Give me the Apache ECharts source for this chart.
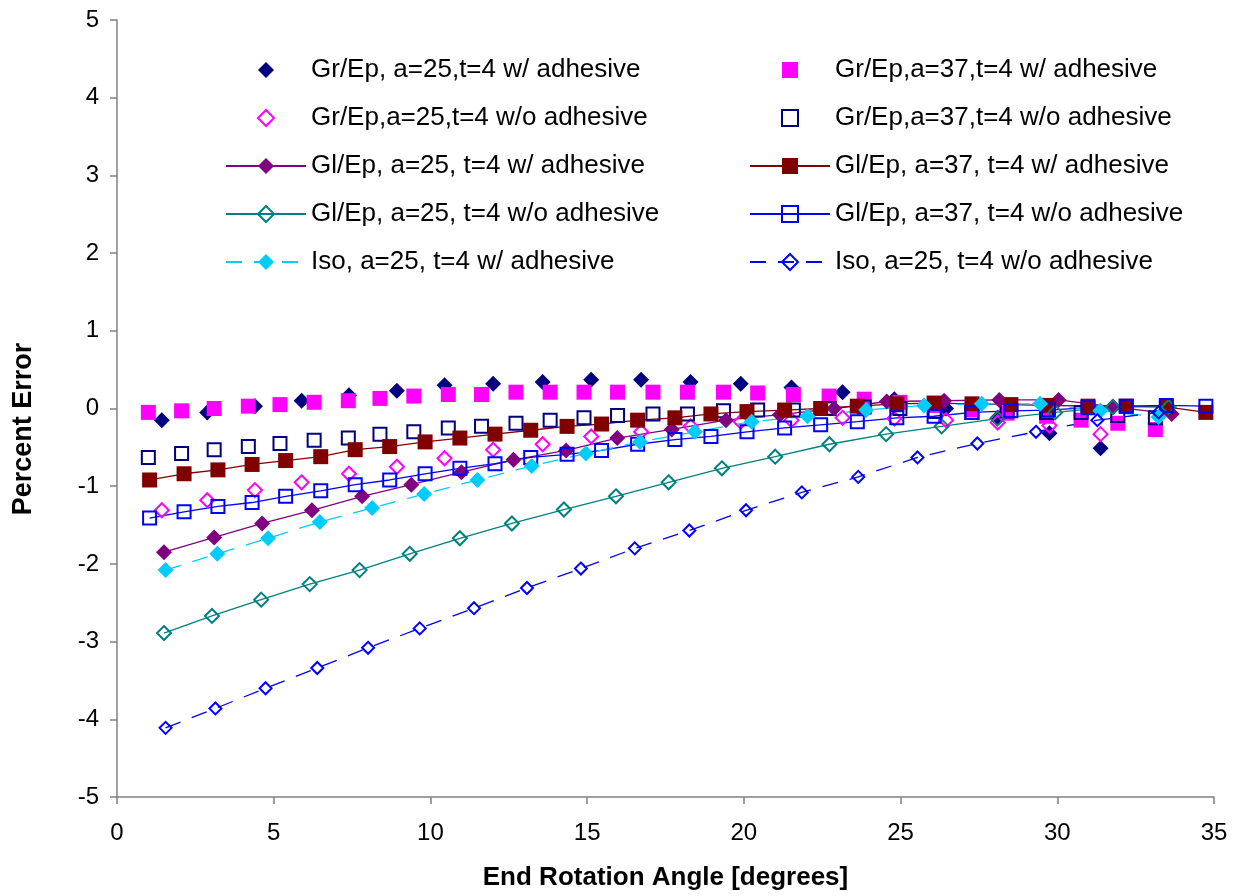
<!DOCTYPE html>
<html><head><meta charset="utf-8">
<script src="https://cdn.jsdelivr.net/npm/echarts@6/dist/echarts.min.js"></script>
<style>html,body{margin:0;padding:0;background:#fff}#c{width:1245px;height:896px}</style>
</head><body><div id="c"></div><script>
// ---- data ----
const grEp25X   = [1.43, 2.88, 4.4, 5.89, 7.4, 8.93, 10.45, 12.0, 13.58, 15.13, 16.72, 18.3, 19.9, 21.52, 23.15, 24.8, 26.45, 28.1, 29.75, 31.38];
const grEp25wY  = [-0.15, -0.05, 0.03, 0.10, 0.17, 0.23, 0.30, 0.32, 0.34, 0.37, 0.37, 0.34, 0.32, 0.27, 0.21, 0.12, 0.0, -0.12, -0.32, -0.51];
const grEp25woY = [-1.31, -1.18, -1.05, -0.95, -0.84, -0.75, -0.64, -0.53, -0.46, -0.36, -0.3, -0.23, -0.17, -0.15, -0.12, -0.13, -0.15, -0.18, -0.22, -0.33];

const glEp25wX  = [1.5, 3.1, 4.63, 6.22, 7.82, 9.39, 10.99, 12.65, 14.33, 15.96, 17.7, 19.43, 21.15, 22.88, 24.56, 26.39, 28.15, 30.04, 31.79, 33.65];
const glEp25wY  = [-1.85, -1.66, -1.48, -1.31, -1.13, -0.98, -0.82, -0.66, -0.54, -0.38, -0.27, -0.15, -0.08, 0.0, 0.09, 0.1, 0.11, 0.11, 0.02, -0.07];
const glEp25woX = [1.5, 3.03, 4.6, 6.15, 7.74, 9.34, 10.94, 12.6, 14.26, 15.92, 17.6, 19.3, 21.0, 22.73, 24.54, 26.31, 28.09, 29.93, 31.77, 33.55];
const glEp25woY = [-2.89, -2.67, -2.46, -2.26, -2.08, -1.87, -1.67, -1.48, -1.3, -1.13, -0.95, -0.77, -0.62, -0.46, -0.33, -0.23, -0.13, -0.05, 0.02, 0.02];

const iso25wX   = [1.55, 3.2, 4.82, 6.47, 8.14, 9.8, 11.5, 13.23, 14.96, 16.69, 18.44, 20.25, 22.03, 23.9, 25.75, 27.59, 29.45, 31.37, 33.23];
const iso25wY   = [-2.08, -1.87, -1.67, -1.46, -1.28, -1.1, -0.92, -0.74, -0.58, -0.43, -0.3, -0.17, -0.1, -0.02, 0.04, 0.06, 0.06, -0.03, -0.11];
const iso25woX  = [1.55, 3.14, 4.74, 6.39, 8.01, 9.66, 11.39, 13.08, 14.8, 16.52, 18.26, 20.07, 21.85, 23.65, 25.54, 27.45, 29.32, 31.28, 33.23];
const iso25woY  = [-4.11, -3.86, -3.6, -3.34, -3.08, -2.83, -2.57, -2.31, -2.06, -1.8, -1.57, -1.31, -1.08, -0.88, -0.63, -0.45, -0.3, -0.15, -0.05];

const grEp37X   = [1.0, 2.06, 3.1, 4.19, 5.2, 6.29, 7.38, 8.39, 9.47, 10.57, 11.63, 12.73, 13.82, 14.9, 15.97, 17.1, 18.2, 19.35, 20.44, 21.58, 22.72, 23.84, 24.98, 26.1, 27.27, 28.4, 29.66, 30.76, 31.93, 33.13];
const grEp37wY  = [-0.05, -0.03, 0.0, 0.03, 0.05, 0.08, 0.10, 0.13, 0.16, 0.18, 0.18, 0.21, 0.21, 0.21, 0.21, 0.21, 0.21, 0.21, 0.20, 0.18, 0.16, 0.12, 0.08, 0.04, -0.02, -0.06, -0.10, -0.15, -0.19, -0.27];
const grEp37woY = [-0.63, -0.58, -0.53, -0.49, -0.45, -0.41, -0.38, -0.33, -0.3, -0.25, -0.23, -0.19, -0.15, -0.12, -0.09, -0.07, -0.07, -0.03, -0.02, -0.02, 0.0, 0.02, 0.0, -0.04, -0.05, -0.03, -0.05, -0.05, -0.09, -0.12];

const glEp37X   = [1.04, 2.14, 3.22, 4.31, 5.38, 6.5, 7.6, 8.7, 9.83, 10.94, 12.06, 13.2, 14.36, 15.46, 16.61, 17.8, 18.95, 20.1, 21.3, 22.45, 23.62, 24.88, 26.07, 27.28, 28.52, 29.72, 30.98, 32.2, 33.48, 34.74];
const glEp37wY  = [-0.92, -0.84, -0.79, -0.72, -0.67, -0.62, -0.53, -0.49, -0.43, -0.38, -0.33, -0.28, -0.23, -0.2, -0.15, -0.12, -0.07, -0.04, -0.02, 0.0, 0.03, 0.06, 0.07, 0.06, 0.05, 0.04, 0.03, 0.03, 0.02, -0.05];
const glEp37woY = [-1.41, -1.33, -1.26, -1.21, -1.13, -1.06, -0.98, -0.92, -0.84, -0.77, -0.71, -0.63, -0.59, -0.54, -0.46, -0.4, -0.36, -0.3, -0.25, -0.21, -0.17, -0.12, -0.1, -0.05, -0.03, -0.02, 0.01, 0.03, 0.04, 0.03];

const names = [
  'Gr/Ep, a=25,t=4 w/ adhesive', 'Gr/Ep,a=37,t=4 w/ adhesive',
  'Gr/Ep,a=25,t=4 w/o adhesive', 'Gr/Ep,a=37,t=4 w/o adhesive',
  'Gl/Ep, a=25, t=4 w/ adhesive', 'Gl/Ep, a=37, t=4 w/ adhesive',
  'Gl/Ep, a=25, t=4 w/o adhesive', 'Gl/Ep, a=37, t=4 w/o adhesive',
  'Iso, a=25, t=4 w/ adhesive', 'Iso, a=25, t=4 w/o adhesive'
];

// ---- build ----
function mk(name, xs, ys, o) {
  const hollow = o.hollow;
  return {
    type: 'line', name: name,
    data: xs.map((x, i) => [x, ys[i]]),
    symbol: o.symbol, symbolSize: o.size, showSymbol: true,
    itemStyle: hollow ? { color: 'rgba(255,255,255,0)', borderColor: o.color, borderWidth: 2 }
                      : { color: o.color, borderWidth: 0 },
    lineStyle: o.line ? { color: o.color, width: 1.3, type: o.dash ? [16, 12] : 'solid' }
                      : { color: o.color, width: 0, opacity: 0 },
    emphasis: { disabled: true },
    animation: false
  };
}
const series = [
  mk(names[0], grEp25X, grEp25wY,  { symbol: 'diamond', size: 16, color: '#000080' }),
  mk(names[1], grEp37X, grEp37wY,  { symbol: 'rect', size: 15, color: '#FF00FF' }),
  mk(names[2], grEp25X, grEp25woY, { symbol: 'diamond', size: 14, color: '#FF00FF', hollow: true }),
  mk(names[3], grEp37X, grEp37woY, { symbol: 'rect', size: 13, color: '#000080', hollow: true }),
  mk(names[4], glEp25wX, glEp25wY, { symbol: 'diamond', size: 16, color: '#800080', line: true }),
  mk(names[5], glEp37X, glEp37wY,  { symbol: 'rect', size: 15, color: '#800000', line: true }),
  mk(names[6], glEp25woX, glEp25woY, { symbol: 'diamond', size: 14, color: '#008080', hollow: true, line: true }),
  mk(names[7], glEp37X, glEp37woY, { symbol: 'rect', size: 13, color: '#0000FF', hollow: true, line: true }),
  mk(names[8], iso25wX, iso25wY,   { symbol: 'diamond', size: 16, color: '#00CCFF', line: true, dash: true }),
  mk(names[9], iso25woX, iso25woY, { symbol: 'diamond', size: 12, color: '#0000FF', hollow: true, line: true, dash: true })
];

const FONT = 'Liberation Sans, Arial, sans-serif';
const legendCommon = {
  orient: 'vertical', top: 52, itemWidth: 80, itemHeight: 20, itemGap: 22,
  textStyle: { fontFamily: FONT, fontSize: 26, color: '#000', padding: [0, 0, 0, 0] },
  selectedMode: false
};
const axisStyle = { lineStyle: { color: '#808080', width: 1.5 } };

const chart = echarts.init(document.getElementById('c'), null, { renderer: 'canvas' });
chart.setOption({
  backgroundColor: '#fff',
  animation: false,
  textStyle: { fontFamily: FONT },
  grid: { left: 117, right: 31, top: 20, bottom: 98, containLabel: false },
  legend: [
    Object.assign({ left: 220, data: [names[0], names[2], names[4], names[6], names[8]] }, legendCommon),
    Object.assign({ left: 744, data: [names[1], names[3], names[5], names[7], names[9]] }, legendCommon)
  ],
  xAxis: {
    type: 'value', min: 0, max: 35, interval: 5,
    axisLine: Object.assign({ onZero: false }, axisStyle),
    axisTick: { show: true, length: 7, lineStyle: { color: '#808080', width: 1.5 } },
    splitLine: { show: false },
    axisLabel: { fontFamily: FONT, fontSize: 24, color: '#000', margin: 24 },
    name: 'End Rotation Angle [degrees]', nameLocation: 'middle', nameGap: 68,
    nameTextStyle: { fontFamily: FONT, fontSize: 26, fontWeight: 'bold', color: '#000' }
  },
  yAxis: {
    type: 'value', min: -5, max: 5, interval: 1,
    axisLine: Object.assign({ onZero: false }, axisStyle),
    axisTick: { show: true, length: 7, lineStyle: { color: '#808080', width: 1.5 } },
    splitLine: { show: false },
    axisLabel: { fontFamily: FONT, fontSize: 24, color: '#000', margin: 18 }
  },
  graphic: [{
    type: 'text', x: 24, y: 429, rotation: Math.PI / 2,
    style: { text: 'Percent Error', font: 'bold 27px ' + FONT, fill: '#000', align: 'center', verticalAlign: 'middle' }
  }],
  series: series
});
</script></body></html>
